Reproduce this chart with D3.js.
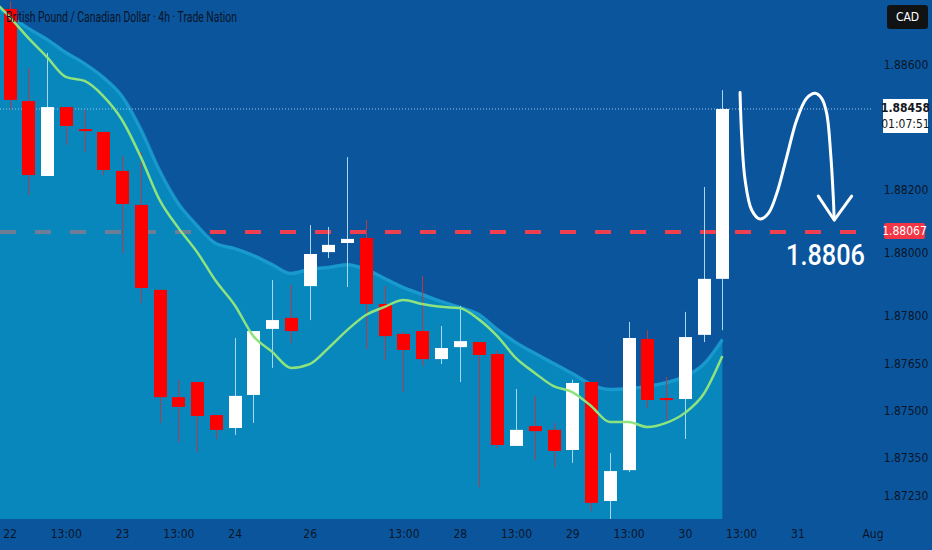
<!DOCTYPE html>
<html>
<head>
<meta charset="utf-8">
<script src="https://cdn.jsdelivr.net/npm/d3@7"></script>
<style>
  html, body { margin: 0; padding: 0; background: #0b559d; }
  svg { display: block; }
  .ax text { font-family: "Liberation Sans Narrow", "DejaVu Sans Condensed", sans-serif; fill: #0a1628; }
</style>
</head>
<body>
<main></main>
<script>
// 4h candles, index 0 = first bar on the 22nd
const opens  = [1.88776, 1.88483, 1.88245, 1.88464, 1.88394, 1.88385, 1.88261, 1.88153, 1.87883, 1.87542,
                1.87590, 1.87485, 1.87444, 1.87549, 1.87759, 1.87794, 1.87895, 1.88003, 1.88032, 1.88048,
                1.87838, 1.87743, 1.87752, 1.87663, 1.87701, 1.87717, 1.87679, 1.87387, 1.87450, 1.87438,
                1.87374, 1.87590, 1.87212, 1.87310, 1.87727, 1.87539, 1.87536, 1.87740, 1.87918];
const highs  = [1.88800, 1.88588, 1.88636, 1.88464, 1.88455, 1.88385, 1.88309, 1.88321, 1.87883, 1.87597,
                1.87590, 1.87485, 1.87730, 1.87752, 1.87914, 1.87899, 1.88089, 1.88083, 1.88305, 1.88105,
                1.87895, 1.87749, 1.87927, 1.87768, 1.87832, 1.87717, 1.87689, 1.87568, 1.87546, 1.87460,
                1.87597, 1.87590, 1.87364, 1.87781, 1.87755, 1.87606, 1.87813, 1.88210, 1.88518];
const lows   = [1.88455, 1.88185, 1.88245, 1.88344, 1.88321, 1.88248, 1.88000, 1.87841, 1.87460, 1.87399,
                1.87368, 1.87409, 1.87422, 1.87460, 1.87635, 1.87714, 1.87787, 1.87984, 1.87892, 1.87695,
                1.87660, 1.87558, 1.87641, 1.87647, 1.87590, 1.87256, 1.87380, 1.87387, 1.87342, 1.87320,
                1.87333, 1.87180, 1.87151, 1.87304, 1.87508, 1.87469, 1.87409, 1.87717, 1.87755];
const closes = [1.88487, 1.88248, 1.88464, 1.88404, 1.88388, 1.88264, 1.88156, 1.87889, 1.87542, 1.87511,
                1.87482, 1.87438, 1.87546, 1.87752, 1.87787, 1.87752, 1.87997, 1.88026, 1.88045, 1.87838,
                1.87736, 1.87692, 1.87663, 1.87698, 1.87720, 1.87676, 1.87390, 1.87438, 1.87434, 1.87371,
                1.87587, 1.87206, 1.87307, 1.87730, 1.87533, 1.87533, 1.87733, 1.87918, 1.88458];

// indicator values, starting one bar before the first candle
const bandUpper = [1.88805, 1.88760, 1.88719, 1.88684, 1.88642, 1.88607, 1.88563, 1.88503, 1.88398, 1.88267,
                   1.88162, 1.88092, 1.88035, 1.88019, 1.87997, 1.87968, 1.87940, 1.87953, 1.87959, 1.87968,
                   1.87953, 1.87924, 1.87895, 1.87873, 1.87851, 1.87832, 1.87810, 1.87762, 1.87720, 1.87686,
                   1.87654, 1.87622, 1.87587, 1.87571, 1.87574, 1.87581, 1.87593, 1.87612, 1.87651, 1.87730];
const ema = [1.88811, 1.88751, 1.88684, 1.88623, 1.88560, 1.88547, 1.88499, 1.88423, 1.88305, 1.88169,
             1.88080, 1.88003, 1.87911, 1.87835, 1.87736, 1.87686, 1.87635, 1.87647, 1.87698, 1.87755,
             1.87803, 1.87829, 1.87851, 1.87838, 1.87829, 1.87825, 1.87790, 1.87736, 1.87666, 1.87619,
             1.87577, 1.87558, 1.87514, 1.87463, 1.87463, 1.87447, 1.87460, 1.87492, 1.87552, 1.87673];

const timeTickIdx = [0, 3, 6, 9, 12, 16, 21, 24, 27, 30, 33, 36, 39, 42, 46];
const timeLabels = ['22', '13:00', '23', '13:00', '24', '26', '13:00', '28', '13:00', '29', '13:00', '30', '13:00', '31', 'Aug'];
const priceTicks = [1.88600, 1.88200, 1.88000, 1.87800, 1.87650, 1.87500, 1.87350, 1.87230];

const lastPrice = 1.88458;
const countdown = '01:07:51';
const targetLevel = 1.88067;
const targetText = '1.8806';

// hand drawn projection: [bar index, price]
const arrowPath = [[38.94, 1.88510], [39.03, 1.88370], [39.21, 1.88232], [39.56, 1.88137], [40.01, 1.88108],
                   [40.45, 1.88126], [40.90, 1.88190], [41.43, 1.88306], [41.96, 1.88423], [42.49, 1.88492],
                   [42.94, 1.88508], [43.29, 1.88492], [43.56, 1.88444], [43.77, 1.88317], [43.91, 1.88179],
                   [43.96, 1.88105]];
const arrowHead = [[43.11, 1.88181], [43.96, 1.88105], [44.89, 1.88181]];

const W = 932, H = 550, plotBottom = 519, axisX = 872;
const narrow = '"Liberation Sans Narrow", "DejaVu Sans Condensed", sans-serif';

const svg = d3.select('main')
    .append('svg')
    .attr('width', W)
    .attr('height', H);

svg.append('rect').attr('width', W).attr('height', H).attr('fill', '#0b559d');

const xScale = d3.scaleLinear().domain([0, 38]).range([9.5, 722.4]);
const yScale = d3.scaleLinear().domain([1.8723, 1.886]).range([495.3, 64.3]);
const step = xScale(1) - xScale(0);

svg.append('clipPath').attr('id', 'plot')
    .append('rect').attr('x', 0).attr('y', 0).attr('width', axisX).attr('height', plotBottom);

const plot = svg.append('g').attr('clip-path', 'url(#plot)');

// target level (under the band, so it dims inside it)
plot.append('line')
    .attr('x1', 0).attr('x2', axisX + 10)
    .attr('y1', yScale(targetLevel)).attr('y2', yScale(targetLevel))
    .attr('stroke', '#f0404f')
    .attr('stroke-width', 4)
    .attr('stroke-dasharray', '16,19');

// band fill
const area = d3.area()
    .x((d, i) => xScale(i - 1))
    .y0(plotBottom)
    .y1((d) => yScale(d))
    .curve(d3.curveMonotoneX);

plot.append('path')
    .datum(bandUpper)
    .attr('d', area)
    .attr('fill', 'rgb(6,176,212)')
    .attr('fill-opacity', 0.55);

const upperLine = d3.line()
    .x((d, i) => xScale(i - 1))
    .y((d) => yScale(d))
    .curve(d3.curveMonotoneX);

plot.append('path')
    .datum(bandUpper)
    .attr('d', upperLine)
    .attr('transform', 'translate(0,1.5)')
    .attr('fill', 'none')
    .attr('stroke', '#1fa3d6')
    .attr('stroke-opacity', 0.7)
    .attr('stroke-width', 3.5);

// last price dotted line
plot.append('line')
    .attr('x1', 0).attr('x2', axisX + 12)
    .attr('y1', yScale(lastPrice)).attr('y2', yScale(lastPrice))
    .attr('stroke', '#9fc9ea')
    .attr('stroke-width', 1)
    .attr('stroke-dasharray', '1,2');

// candles
const candles = opens.map((o, i) => ({ i: i, o: o, h: highs[i], l: lows[i], c: closes[i] }));

plot.selectAll('.wick')
    .data(candles)
    .enter()
    .append('line')
    .attr('class', 'wick')
    .attr('x1', (d) => Math.round(xScale(d.i)) + 0.5)
    .attr('x2', (d) => Math.round(xScale(d.i)) + 0.5)
    .attr('y1', (d) => yScale(d.h))
    .attr('y2', (d) => yScale(d.l))
    .attr('stroke', (d) => d.c >= d.o ? '#a9d6f2' : '#b23a4a')
    .attr('stroke-width', 1);

const bodyW = Math.round(step * 0.7);
plot.selectAll('.body')
    .data(candles)
    .enter()
    .append('rect')
    .attr('class', 'body')
    .attr('x', (d) => Math.round(xScale(d.i)) + 0.5 - bodyW / 2)
    .attr('width', bodyW)
    .attr('y', (d) => yScale(Math.max(d.o, d.c)))
    .attr('height', (d) => Math.max(2, Math.abs(yScale(d.o) - yScale(d.c))))
    .attr('fill', (d) => d.c >= d.o ? '#ffffff' : '#ff0000');

// ema
const emaLine = d3.line()
    .x((d, i) => xScale(i - 1))
    .y((d) => yScale(d))
    .curve(d3.curveMonotoneX);

plot.append('path')
    .datum(ema)
    .attr('d', emaLine)
    .attr('fill', 'none')
    .attr('stroke', '#8ee37f')
    .attr('stroke-width', 2.5);

// projection arrow
const freeLine = d3.line()
    .x((d) => xScale(d[0]))
    .y((d) => yScale(d[1]))
    .curve(d3.curveCatmullRom);

plot.append('path')
    .datum(arrowPath)
    .attr('d', freeLine)
    .attr('fill', 'none')
    .attr('stroke', '#ffffff')
    .attr('stroke-width', 3)
    .attr('stroke-linecap', 'round');

plot.append('path')
    .datum(arrowHead)
    .attr('d', d3.line().x((d) => xScale(d[0])).y((d) => yScale(d[1])))
    .attr('fill', 'none')
    .attr('stroke', '#ffffff')
    .attr('stroke-width', 3)
    .attr('stroke-linecap', 'round')
    .attr('stroke-linejoin', 'round');

svg.append('text')
    .attr('x', 786)
    .attr('y', yScale(targetLevel) + 33)
    .attr('font-family', 'Roboto, sans-serif')
    .attr('font-size', 30)
    .attr('font-weight', 500)
    .attr('textLength', 79)
    .attr('lengthAdjust', 'spacingAndGlyphs')
    .attr('fill', '#ffffff')
    .text(targetText);

// title
svg.append('text')
    .attr('x', 6)
    .attr('y', 22)
    .attr('font-family', 'Roboto, sans-serif')
    .attr('font-size', 14)
    .attr('textLength', 231)
    .attr('lengthAdjust', 'spacingAndGlyphs')
    .attr('fill', '#0a1426')
    .text('British Pound / Canadian Dollar · 4h · Trade Nation');

// time axis
const xAxis = svg.append('g')
    .attr('class', 'ax')
    .attr('transform', `translate(0, ${plotBottom})`)
    .call(
        d3.axisBottom(xScale)
            .tickValues(timeTickIdx)
            .tickFormat((d, i) => timeLabels[i])
            .tickSize(0)
            .tickPadding(10)
    );
xAxis.select('.domain').remove();
xAxis.selectAll('text').attr('font-size', 12);

// price axis
const yAxis = svg.append('g')
    .attr('class', 'ax')
    .attr('transform', `translate(906, 0)`)
    .call(
        d3.axisRight(yScale)
            .tickValues(priceTicks)
            .tickFormat(d3.format('.5f'))
            .tickSize(0)
            .tickPadding(0)
    );
yAxis.select('.domain').remove();
yAxis.selectAll('text')
    .attr('text-anchor', 'middle')
    .attr('font-size', 12);

// currency badge
svg.append('rect')
    .attr('x', 887).attr('y', 5).attr('width', 41).attr('height', 24).attr('rx', 3)
    .attr('fill', '#111214');
svg.append('text')
    .attr('x', 907.5).attr('y', 21)
    .attr('text-anchor', 'middle')
    .attr('font-family', narrow)
    .attr('font-size', 12)
    .attr('fill', '#ffffff')
    .text('CAD');

// last price label
const ly = yScale(lastPrice);
svg.append('rect')
    .attr('x', 883).attr('y', ly - 10).attr('width', 45).attr('height', 34)
    .attr('fill', '#ffffff');
svg.append('text')
    .attr('x', 905.5).attr('y', ly + 3)
    .attr('text-anchor', 'middle')
    .attr('font-family', narrow)
    .attr('font-weight', 'bold')
    .attr('font-size', 12)
    .attr('fill', '#131722')
    .text(d3.format('.5f')(lastPrice));
svg.append('text')
    .attr('x', 905.5).attr('y', ly + 19)
    .attr('text-anchor', 'middle')
    .attr('font-family', narrow)
    .attr('font-size', 12)
    .attr('fill', '#131722')
    .text(countdown);

// target label
const ty = yScale(targetLevel);
svg.append('rect')
    .attr('x', 884).attr('y', ty - 9).attr('width', 41).attr('height', 16).attr('rx', 2)
    .attr('fill', '#f23645');
svg.append('text')
    .attr('x', 904.5).attr('y', ty + 3)
    .attr('text-anchor', 'middle')
    .attr('font-family', narrow)
    .attr('font-size', 12)
    .attr('fill', '#ffffff')
    .text(d3.format('.5f')(targetLevel));
</script>
</body>
</html>
